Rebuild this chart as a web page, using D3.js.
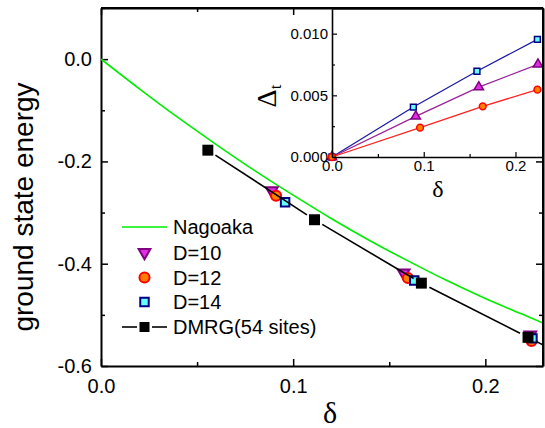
<!DOCTYPE html>
<html>
<head>
<meta charset="utf-8">
<script src="https://cdn.jsdelivr.net/npm/d3@7"></script>
<style>
  body { margin: 0; background: #fff; }
  svg { display: block; }
  text { font-family: "Liberation Sans", Arial, sans-serif; }
</style>
</head>
<body>
<svg id="chart" width="545" height="428"></svg>
<script>
// ---------------- DATA ----------------
// Main panel: ground state energy vs delta
const nagaokaDelta = [0, 0.02, 0.04, 0.06, 0.08, 0.10, 0.12, 0.14, 0.16, 0.18, 0.20, 0.22, 0.23];
const nagaokaE     = [0, -0.058, -0.114, -0.167, -0.218, -0.266, -0.312, -0.355, -0.395, -0.433, -0.468, -0.500, -0.516];

const d10Delta = [0.0889, 0.1575, 0.2234];
const d10E     = [-0.257, -0.418, -0.539];
const d12Delta = [0.0911, 0.1597, 0.2240];
const d12E     = [-0.267, -0.428, -0.551];
const d14Delta = [0.0958, 0.1630, 0.2245];
const d14E     = [-0.280, -0.433, -0.546];

// DMRG (54 sites); last point lies beyond the visible x range (line continues to the frame)
const dmrgDelta = [0.0556, 0.1111, 0.1667, 0.2222, 0.2593];
const dmrgE     = [-0.178, -0.314, -0.438, -0.544, -0.614];

// Inset: Delta_t vs delta
const insD14Delta = [0, 0.0887, 0.1580, 0.2239];
const insD14Val   = [0, 0.00405, 0.00695, 0.00954];
const insD10Delta = [0, 0.0913, 0.1600, 0.2245];
const insD10Val   = [0, 0.00330, 0.00567, 0.00751];
const insD12Delta = [0, 0.0960, 0.1643, 0.2239];
const insD12Val   = [0, 0.00238, 0.00411, 0.00546];

// Ticks
const mainXTicks = [0, 0.1, 0.2];
const mainXMinor = [0.05, 0.15];
const mainYTicks = [0, -0.2, -0.4, -0.6];
const mainYMinor = [0.1, -0.1, -0.3, -0.5];
const insXTicks = [0, 0.1, 0.2];
const insXMinor = [0.05, 0.15];
const insYTicks = [0, 0.005, 0.010];
const insYMinor = [0.0025, 0.0075];

const legendLabels = ["Nagoaka", "D=10", "D=12", "D=14", "DMRG(54 sites)"];

// ---------------- STYLE ----------------
const C = {
  green: "#00ee00",
  purpleStroke: "#800080", purpleFill: "#e22ee2",
  redStroke: "#ff0000", redFill: "#ff8000",
  navyStroke: "#000080", cyanFill: "#66ffff",
  black: "#000"
};

const svg = d3.select("#chart");

// ---------------- MAIN PANEL ----------------
const M = { left: 101, right: 543, top: 8, bottom: 366 };
const x = d3.scaleLinear().domain([0, 0.23]).range([M.left, M.right]);
const y = d3.scaleLinear().domain([-0.6, 0.1]).range([M.bottom, M.top]);

svg.append("defs").append("clipPath").attr("id", "clipMain")
  .append("rect").attr("x", M.left).attr("y", M.top)
  .attr("width", M.right - M.left).attr("height", M.bottom - M.top);

const fmt1 = d => d.toFixed(1);

function styleAxis(g, fs, sw) {
  g.selectAll("path.domain").attr("stroke", "#000").attr("stroke-width", sw);
  g.selectAll(".tick line").attr("stroke", "#000").attr("stroke-width", sw * 0.75);
  g.selectAll(".tick text").attr("font-size", fs).attr("fill", "#000")
    .attr("font-family", '"Liberation Sans", Arial, sans-serif');
}

// bottom
let g = svg.append("g").attr("transform", `translate(0,${M.bottom})`)
  .call(d3.axisBottom(x).tickValues(mainXTicks).tickFormat(fmt1).tickSizeInner(-7).tickSizeOuter(0).tickPadding(13));
styleAxis(g, 20, 2);
g = svg.append("g").attr("transform", `translate(0,${M.bottom})`)
  .call(d3.axisBottom(x).tickValues(mainXMinor).tickFormat("").tickSizeInner(-4).tickSizeOuter(0));
styleAxis(g, 20, 2); g.select("path.domain").remove();
// top
g = svg.append("g").attr("transform", `translate(0,${M.top})`)
  .call(d3.axisTop(x).tickValues(mainXTicks).tickFormat("").tickSizeInner(-7).tickSizeOuter(0));
styleAxis(g, 20, 2);
g = svg.append("g").attr("transform", `translate(0,${M.top})`)
  .call(d3.axisTop(x).tickValues(mainXMinor).tickFormat("").tickSizeInner(-4).tickSizeOuter(0));
styleAxis(g, 20, 2); g.select("path.domain").remove();
// left
g = svg.append("g").attr("transform", `translate(${M.left},0)`)
  .call(d3.axisLeft(y).tickValues(mainYTicks).tickFormat(fmt1).tickSizeInner(-7).tickSizeOuter(0).tickPadding(9));
styleAxis(g, 20, 2);
g = svg.append("g").attr("transform", `translate(${M.left},0)`)
  .call(d3.axisLeft(y).tickValues(mainYMinor).tickFormat("").tickSizeInner(-4).tickSizeOuter(0));
styleAxis(g, 20, 2); g.select("path.domain").remove();
// right
g = svg.append("g").attr("transform", `translate(${M.right},0)`)
  .call(d3.axisRight(y).tickValues(mainYTicks).tickFormat("").tickSizeInner(-7).tickSizeOuter(0));
styleAxis(g, 20, 2);
g = svg.append("g").attr("transform", `translate(${M.right},0)`)
  .call(d3.axisRight(y).tickValues(mainYMinor).tickFormat("").tickSizeInner(-4).tickSizeOuter(0));
styleAxis(g, 20, 2); g.select("path.domain").remove();

// axis titles
svg.append("text").attr("transform", "translate(33,207) rotate(-90)")
  .attr("text-anchor", "middle").attr("font-size", 28).text("ground state energy");
svg.append("text").attr("x", 330).attr("y", 423)
  .attr("text-anchor", "middle").attr("font-size", 30)
  .style("font-family", '"Liberation Serif", "Times New Roman", serif').text("δ");

// ---------------- INSET ----------------
const I = { left: 332, right: 543, top: 9, bottom: 157 };
const xi = d3.scaleLinear().domain([0, 0.23]).range([I.left, I.right]);
const yi = d3.scaleLinear().domain([0, 0.012]).range([I.bottom, I.top]);

svg.append("rect").attr("x", I.left).attr("y", I.top)
  .attr("width", I.right - I.left).attr("height", I.bottom - I.top).attr("fill", "#fff");

// ---------------- MAIN DATA ----------------
const plot = svg.append("g").attr("clip-path", "url(#clipMain)");

const lineMain = d3.line().x(d => x(d[0])).y(d => y(d[1]));
plot.append("path")
  .datum(d3.zip(nagaokaDelta, nagaokaE))
  .attr("d", lineMain.curve(d3.curveMonotoneX))
  .attr("fill", "none").attr("stroke", C.green).attr("stroke-width", 1.6);

const symDown = d3.symbol().type(d3.symbolTriangle).size(60);
const symCircle = d3.symbol().type(d3.symbolCircle).size(80);
const symSquare = d3.symbol().type(d3.symbolSquare).size(72);
const symSquareBig = d3.symbol().type(d3.symbolSquare).size(120);

plot.selectAll(".d10").data(d3.zip(d10Delta, d10E)).join("path")
  .attr("transform", d => `translate(${x(d[0])},${y(d[1])}) rotate(180)`)
  .attr("d", symDown()).attr("fill", C.purpleFill).attr("stroke", C.purpleStroke).attr("stroke-width", 2);
plot.selectAll(".d12").data(d3.zip(d12Delta, d12E)).join("path")
  .attr("transform", d => `translate(${x(d[0])},${y(d[1])})`)
  .attr("d", symCircle()).attr("fill", C.redFill).attr("stroke", C.redStroke).attr("stroke-width", 2);
plot.selectAll(".d14").data(d3.zip(d14Delta, d14E)).join("path")
  .attr("transform", d => `translate(${x(d[0])},${y(d[1])})`)
  .attr("d", symSquare()).attr("fill", C.cyanFill).attr("stroke", C.navyStroke).attr("stroke-width", 2);

// DMRG line with gaps near the symbols
const dmrgPts = d3.zip(dmrgDelta, dmrgE).map(d => [x(d[0]), y(d[1])]);
const gap = 9;
for (let i = 0; i < dmrgPts.length - 1; i++) {
  const [x0, y0] = dmrgPts[i], [x1, y1] = dmrgPts[i + 1];
  const L = Math.hypot(x1 - x0, y1 - y0), ux = (x1 - x0) / L, uy = (y1 - y0) / L;
  plot.append("line")
    .attr("x1", x0 + ux * gap).attr("y1", y0 + uy * gap)
    .attr("x2", x1 - ux * gap).attr("y2", y1 - uy * gap)
    .attr("stroke", C.black).attr("stroke-width", 1.6);
}
plot.selectAll(".dmrg").data(d3.zip(dmrgDelta, dmrgE)).join("path")
  .attr("transform", d => `translate(${x(d[0])},${y(d[1])})`)
  .attr("d", symSquareBig()).attr("fill", C.black);

// ---------------- LEGEND ----------------
const lgX = 122, lgW = 45, lgTx = 173;
const lgY = [227, 252.5, 277.5, 302, 327];
const leg = svg.append("g");
leg.append("line").attr("x1", lgX).attr("x2", lgX + lgW).attr("y1", lgY[0]).attr("y2", lgY[0])
  .attr("stroke", C.green).attr("stroke-width", 1.6);
leg.append("path").attr("transform", `translate(${lgX + lgW / 2},${lgY[1]}) rotate(180)`)
  .attr("d", symDown()).attr("fill", C.purpleFill).attr("stroke", C.purpleStroke).attr("stroke-width", 2);
leg.append("path").attr("transform", `translate(${lgX + lgW / 2},${lgY[2]})`)
  .attr("d", symCircle()).attr("fill", C.redFill).attr("stroke", C.redStroke).attr("stroke-width", 2);
leg.append("path").attr("transform", `translate(${lgX + lgW / 2},${lgY[3]})`)
  .attr("d", symSquare()).attr("fill", C.cyanFill).attr("stroke", C.navyStroke).attr("stroke-width", 2);
leg.append("line").attr("x1", lgX).attr("x2", lgX + 15).attr("y1", lgY[4]).attr("y2", lgY[4])
  .attr("stroke", C.black).attr("stroke-width", 1.6);
leg.append("line").attr("x1", lgX + 30).attr("x2", lgX + lgW).attr("y1", lgY[4]).attr("y2", lgY[4])
  .attr("stroke", C.black).attr("stroke-width", 1.6);
leg.append("path").attr("transform", `translate(${lgX + lgW / 2},${lgY[4]})`)
  .attr("d", d3.symbol().type(d3.symbolSquare).size(100)()).attr("fill", C.black);
leg.selectAll(".lt").data(legendLabels).join("text")
  .attr("x", lgTx).attr("y", (d, i) => lgY[i] + 7).attr("font-size", 20).text(d => d);

// ---------------- INSET AXES & DATA ----------------
const ins = svg.append("g");
const lineIns = d3.line().x(d => xi(d[0])).y(d => yi(d[1]));
const insSeries = [
  { dx: insD14Delta, v: insD14Val, stroke: C.navyStroke, fill: C.cyanFill, sym: d3.symbolSquare, size: 34, lc: "#1a1aa0" },
  { dx: insD10Delta, v: insD10Val, stroke: C.purpleStroke, fill: C.purpleFill, sym: d3.symbolTriangle, size: 38, lc: "#9a239a" },
  { dx: insD12Delta, v: insD12Val, stroke: C.redStroke, fill: C.redFill, sym: d3.symbolCircle, size: 36, lc: "#ff2020" }
];
insSeries.forEach(s => {
  const pts = d3.zip(s.dx, s.v);
  ins.append("path").datum(pts).attr("d", lineIns)
    .attr("fill", "none").attr("stroke", s.lc).attr("stroke-width", 1.3);
});
insSeries.forEach(s => {
  const pts = d3.zip(s.dx, s.v);
  ins.selectAll(null).data(pts).join("path")
    .attr("transform", d => `translate(${xi(d[0])},${yi(d[1])})`)
    .attr("d", d3.symbol().type(s.sym).size(s.size)())
    .attr("fill", s.fill).attr("stroke", s.stroke).attr("stroke-width", 1.5);
});

g = svg.append("g").attr("transform", `translate(0,${I.bottom})`)
  .call(d3.axisBottom(xi).tickValues(insXTicks).tickFormat(fmt1).tickSizeInner(-5).tickSizeOuter(0).tickPadding(3));
styleAxis(g, 15, 1.6);
g = svg.append("g").attr("transform", `translate(0,${I.bottom})`)
  .call(d3.axisBottom(xi).tickValues(insXMinor).tickFormat("").tickSizeInner(-3).tickSizeOuter(0));
styleAxis(g, 15, 1.6); g.select("path.domain").remove();
g = svg.append("g").attr("transform", `translate(${I.left},0)`)
  .call(d3.axisLeft(yi).tickValues(insYTicks).tickFormat(d => d.toFixed(3)).tickSizeInner(-5).tickSizeOuter(0).tickPadding(4));
styleAxis(g, 15, 1.6);
g = svg.append("g").attr("transform", `translate(${I.left},0)`)
  .call(d3.axisLeft(yi).tickValues(insYMinor).tickFormat("").tickSizeInner(-3).tickSizeOuter(0));
styleAxis(g, 15, 1.6); g.select("path.domain").remove();
svg.append("line").attr("x1", I.left).attr("x2", I.right).attr("y1", I.top).attr("y2", I.top)
  .attr("stroke", "#000").attr("stroke-width", 1.6);

// inset titles
svg.append("text").attr("x", 438).attr("y", 197).attr("text-anchor", "middle")
  .attr("font-size", 24).style("font-family", '"Liberation Serif", "Times New Roman", serif').text("δ");
const dt = svg.append("text").attr("transform", "translate(276,96) rotate(-90)")
  .attr("text-anchor", "middle").style("font-family", '"Liberation Serif", "Times New Roman", serif');
dt.append("tspan").attr("font-size", 28).text("Δ");
dt.append("tspan").attr("font-size", 17).attr("dy", 5).text("t");

// main frame top/right lines redrawn on top
svg.append("line").attr("x1", M.left).attr("x2", M.right).attr("y1", M.top).attr("y2", M.top)
  .attr("stroke", "#000").attr("stroke-width", 2);
svg.append("line").attr("x1", M.right).attr("x2", M.right).attr("y1", M.top).attr("y2", M.bottom)
  .attr("stroke", "#000").attr("stroke-width", 2);
</script>
</body>
</html>
